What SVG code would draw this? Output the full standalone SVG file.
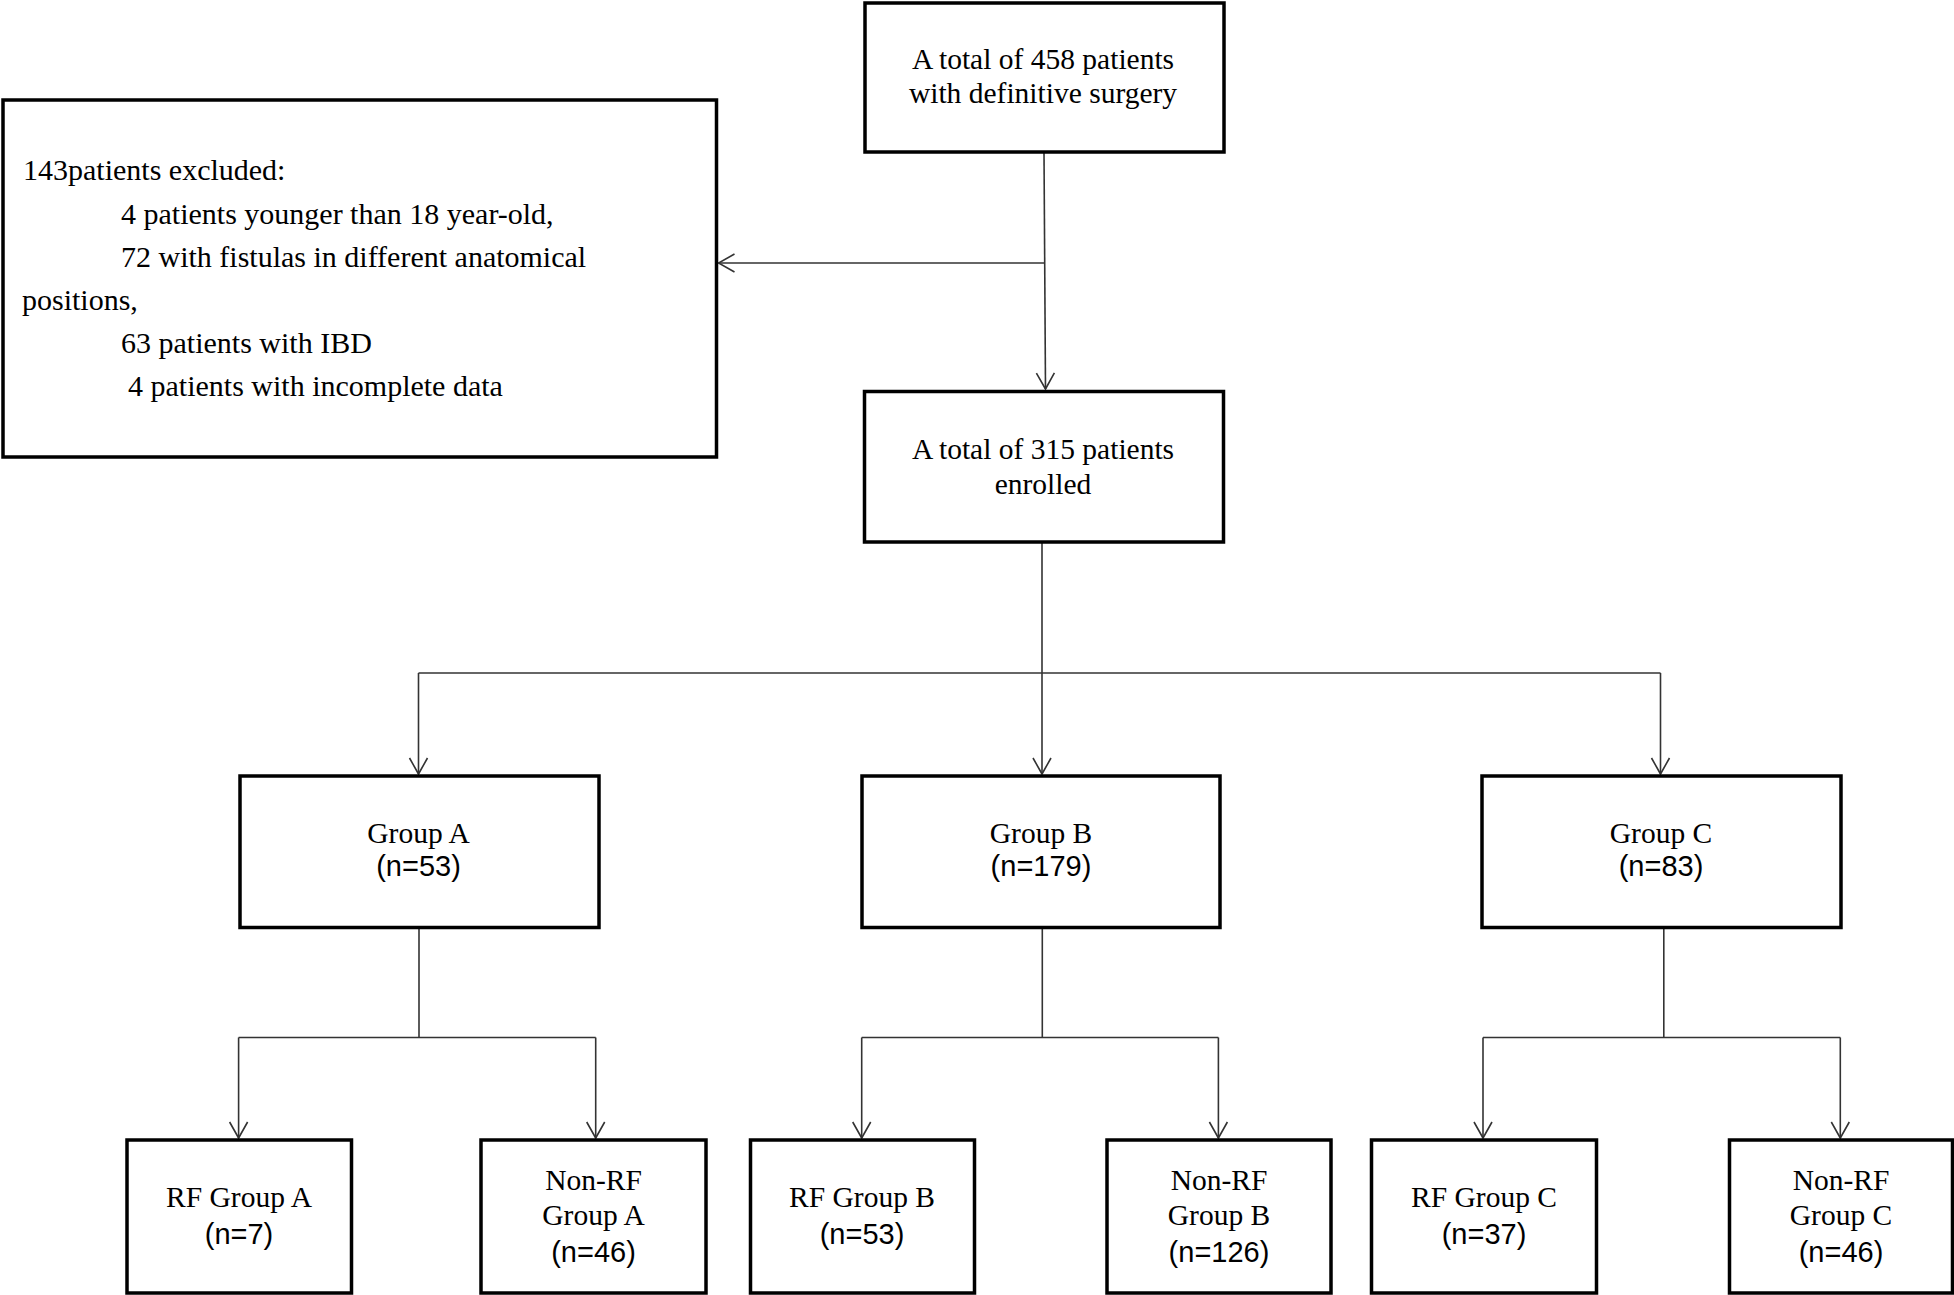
<svg xmlns="http://www.w3.org/2000/svg" width="1954" height="1295" viewBox="0 0 1954 1295">
<style>
.box{fill:#fff;stroke:#000;stroke-width:3.5}
.t{font-family:"Liberation Serif","Times New Roman",serif;font-size:29.5px;fill:#000;text-anchor:middle}
.a{font-family:"Liberation Sans",Arial,sans-serif;font-size:29px;fill:#000;text-anchor:middle}
.ex{font-family:"Liberation Serif","Times New Roman",serif;font-size:30px;fill:#000}
.c{fill:none;stroke:#333;stroke-width:1.6}
</style>
<defs>
<marker id="arr" markerUnits="userSpaceOnUse" viewBox="-18 -12 20 24" refX="0" refY="0" markerWidth="20" markerHeight="24" orient="auto">
<path d="M-16,-9 L0,0 L-16,9" fill="none" stroke="#333" stroke-width="1.6"/>
</marker>
</defs>
<rect width="1954" height="1295" fill="#fff"/>
<g id="connectors">
<path class="c" d="M1044,152 L1045.5,389" marker-end="url(#arr)"/>
<path class="c" d="M1045,263 L718.5,263" marker-end="url(#arr)"/>
<path class="c" d="M1042,542 L1042,673"/>
<path class="c" d="M418.5,673 L1660.5,673"/>
<path class="c" d="M418.5,673 L418.5,774" marker-end="url(#arr)"/>
<path class="c" d="M1042,673 L1042,774" marker-end="url(#arr)"/>
<path class="c" d="M1660.5,673 L1660.5,774" marker-end="url(#arr)"/>
<path class="c" d="M419,927 L419,1037.5"/>
<path class="c" d="M238.6,1037.5 L595.7,1037.5"/>
<path class="c" d="M238.6,1037.5 L238.6,1138" marker-end="url(#arr)"/>
<path class="c" d="M595.7,1037.5 L595.7,1138" marker-end="url(#arr)"/>
<path class="c" d="M1042.3,927 L1042.3,1037.5"/>
<path class="c" d="M861.7,1037.5 L1218.4,1037.5"/>
<path class="c" d="M861.7,1037.5 L861.7,1138" marker-end="url(#arr)"/>
<path class="c" d="M1218.4,1037.5 L1218.4,1138" marker-end="url(#arr)"/>
<path class="c" d="M1663.8,927 L1663.8,1037.5"/>
<path class="c" d="M1483,1037.5 L1840.3,1037.5"/>
<path class="c" d="M1483,1037.5 L1483,1138" marker-end="url(#arr)"/>
<path class="c" d="M1840.3,1037.5 L1840.3,1138" marker-end="url(#arr)"/>
</g>
<g id="n_total">
<rect class="box" x="865" y="3" width="359" height="149"/>
<text class="t" x="1043" y="69">A total of 458 patients</text>
<text class="t" x="1043" y="103">with definitive surgery</text>
</g>
<g id="n_excluded">
<rect class="box" x="3" y="100" width="713.5" height="357"/>
<text class="ex" x="23" y="180">143patients excluded:</text>
<text class="ex" x="121" y="224">4 patients younger than 18 year-old,</text>
<text class="ex" x="121" y="267">72 with fistulas in different anatomical</text>
<text class="ex" x="22" y="310">positions,</text>
<text class="ex" x="121" y="353">63 patients with IBD</text>
<text class="ex" x="128" y="396">4 patients with incomplete data</text>
</g>
<g id="n_enrolled">
<rect class="box" x="864.5" y="391.5" width="359" height="150.5"/>
<text class="t" x="1043" y="459">A total of 315 patients</text>
<text class="t" x="1043" y="494">enrolled</text>
</g>
<g id="n_groupA">
<rect class="box" x="240" y="776" width="359" height="151.5"/>
<text class="t" x="418.5" y="843">Group A</text>
<text class="a" x="418.5" y="876">(n=53)</text>
</g>
<g id="n_groupB">
<rect class="box" x="862" y="776" width="358" height="151.5"/>
<text class="t" x="1041" y="843">Group B</text>
<text class="a" x="1041" y="876">(n=179)</text>
</g>
<g id="n_groupC">
<rect class="box" x="1482" y="776" width="359" height="151.5"/>
<text class="t" x="1661" y="843">Group C</text>
<text class="a" x="1661" y="876">(n=83)</text>
</g>
<g id="n_rfA">
<rect class="box" x="127" y="1140" width="224.5" height="153"/>
<text class="t" x="239" y="1207">RF Group A</text>
<text class="a" x="239" y="1244">(n=7)</text>
</g>
<g id="n_nonrfA">
<rect class="box" x="481" y="1140" width="225" height="153"/>
<text class="t" x="593.5" y="1190">Non-RF</text>
<text class="t" x="593.5" y="1225">Group A</text>
<text class="a" x="593.5" y="1262">(n=46)</text>
</g>
<g id="n_rfB">
<rect class="box" x="750.5" y="1140" width="224" height="153"/>
<text class="t" x="862" y="1207">RF Group B</text>
<text class="a" x="862" y="1244">(n=53)</text>
</g>
<g id="n_nonrfB">
<rect class="box" x="1107" y="1140" width="224" height="153"/>
<text class="t" x="1219" y="1190">Non-RF</text>
<text class="t" x="1219" y="1225">Group B</text>
<text class="a" x="1219" y="1262">(n=126)</text>
</g>
<g id="n_rfC">
<rect class="box" x="1371.5" y="1140" width="225" height="153"/>
<text class="t" x="1484" y="1207">RF Group C</text>
<text class="a" x="1484" y="1244">(n=37)</text>
</g>
<g id="n_nonrfC">
<rect class="box" x="1729.5" y="1140" width="223" height="153"/>
<text class="t" x="1841" y="1190">Non-RF</text>
<text class="t" x="1841" y="1225">Group C</text>
<text class="a" x="1841" y="1262">(n=46)</text>
</g>
</svg>
